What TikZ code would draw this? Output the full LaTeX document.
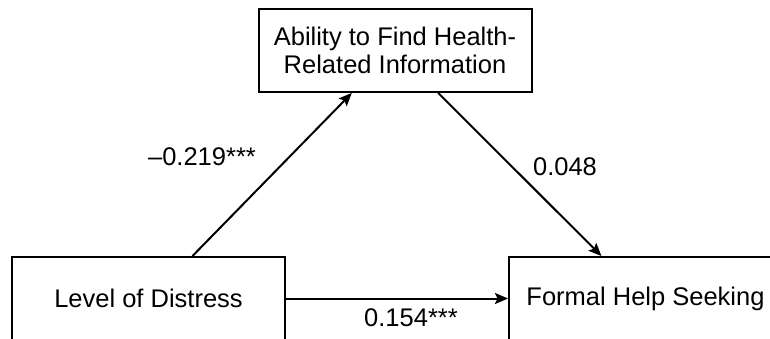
\documentclass[tikz,border=0pt]{standalone}
\usepackage{fontspec}
\setmainfont{Liberation Sans}
\usetikzlibrary{arrows.meta,calc}
\begin{document}
\begin{tikzpicture}[x=1pt,y=-1pt,
  box/.style={draw,line width=2pt,minimum width=273pt,minimum height=83pt,
    inner sep=0pt,align=center,font=\fontsize{25.5}{28}\selectfont},
  lbl/.style={font=\fontsize{25.5}{28}\selectfont,inner sep=0pt},
  arr/.style={line width=2pt,-{Stealth[length=13pt,width=11pt,inset=2.5pt]}}]
  \useasboundingbox (0,0) rectangle (770,338);
  \clip (0,0) rectangle (770,338);
  % boxes
  \node[box] (tb) at (395,50.5) {Ability to Find Health-\\Related Information};
  \node[box] (lb) at (148.5,298.5) {Level of Distress};
  \node[box] (rb) at (645.5,298.5) {Formal Help Seeking};
  % paths
  \draw[arr] ($(lb.north west)!0.66!(lb.north east)$) -- ($(tb.south west)!0.343!(tb.south east)$);
  \draw[arr] ($(tb.south west)!0.657!(tb.south east)$) -- ($(rb.north west)!0.34!(rb.north east)$);
  \draw[arr] (lb.east) -- (rb.west);
  % coefficients
  \node[lbl] (c1) at (202,157) {–0.219***};
  \node[lbl] (c2) at (565,167) {0.048};
  \node[lbl] (c3) at (411,318) {0.154***};
\end{tikzpicture}
\end{document}
